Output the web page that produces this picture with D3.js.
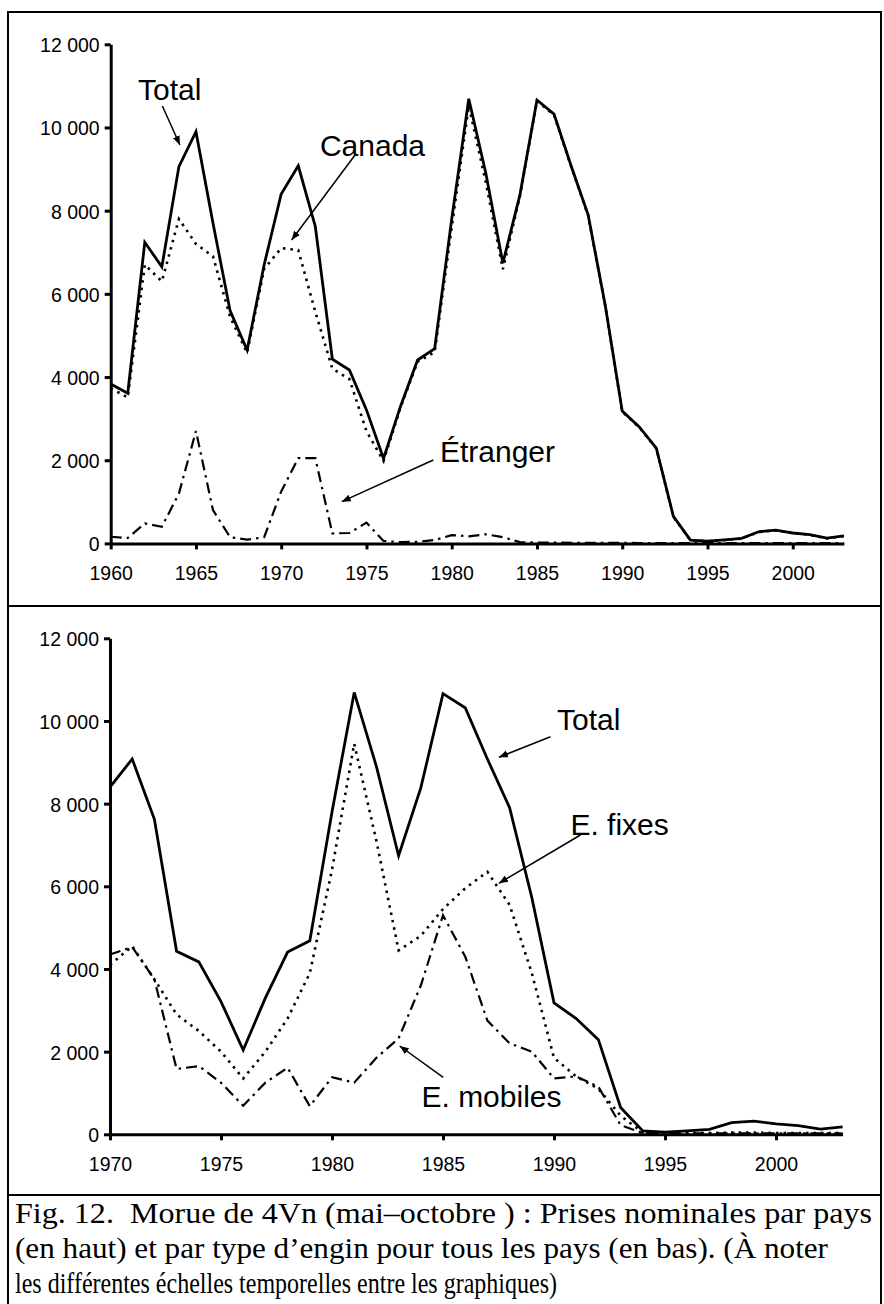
<!DOCTYPE html>
<html><head><meta charset="utf-8">
<script src="https://cdn.jsdelivr.net/npm/d3@7"></script>
<style>body{margin:0;background:#fff} svg{display:block}</style>
</head><body>
<svg id="c" width="884" height="1304"></svg>
<script>
// ---------- DATA ----------
const yearsTop = d3.range(1960, 2004);
const totalCatch = [3830,3610,7240,6650,9060,9900,7700,5600,4650,6700,
  8400,9080,7620,4430,4170,3210,2040,3300,4410,4680,
  7800,10690,8900,6740,8380,10660,10320,9080,7900,5730,
  3180,2800,2290,650,80,55,85,120,280,320,
  250,210,125,180];
const canadaCatch = [3730,3510,6700,6300,7800,7200,6900,5450,4580,6600,
  7100,7050,5570,4200,3950,2700,1980,3270,4370,4600,
  7600,10520,8680,6590,8350,10640,10300,9065,7885,5720,
  3165,2790,2280,640,75,50,80,115,275,315,
  245,205,120,175];
const foreignCatch = [160,130,480,400,1200,2700,800,150,90,150,
  1250,2050,2050,240,250,500,60,30,40,80,
  200,170,220,150,30,20,20,15,15,10,
  15,10,10,10,5,5,5,5,5,5,
  5,5,5,5];
const yearsBottom = d3.range(1970, 2004);
const totalBottom = totalCatch.slice(10);
const fixedGear = [4100,4550,3750,2900,2500,2000,1350,2000,2800,3900,
  6400,9450,7100,4450,4800,5450,5950,6350,5550,3900,
  1850,1400,1100,450,40,30,30,30,40,40,
  30,30,30,30];
const mobileGear = [4350,4530,3750,1580,1650,1250,690,1250,1610,680,
  1380,1250,1850,2320,3600,5300,4300,2750,2200,2000,
  1350,1400,1150,220,30,20,20,20,20,20,
  20,20,20,20];
const yTicks = [0,2000,4000,6000,8000,10000,12000];
const xTicksTop = [1960,1965,1970,1975,1980,1985,1990,1995,2000];
const xTicksBottom = [1970,1975,1980,1985,1990,1995,2000];
// annotations: [label, textYear, textValue, arrowFromYear, arrowFromValue, arrowToYear, arrowToValue]
const annotTop = [
  ["Total", 1961.6, 10663, 1963.03, 10517, 1964.06, 9579],
  ["Canada", 1972.27, 9322, 1974.33, 9338, 1970.61, 7294],
  ["Étranger", 1979.31, 1964, 1978.92, 2005, 1973.55, 1003]
];
const annotBottom = [
  ["Total", 1990.14, 9782, 1989.84, 9619, 1987.52, 9121],
  ["E. fixes", 1990.74, 7241, 1991.19, 7241, 1987.52, 6073],
  ["E. mobiles", 1984.03, 668, 1985.01, 1379, 1983.05, 2136]
];
const captionLines = [
  "Fig. 12.  Morue de 4Vn (mai–octobre ) : Prises nominales par pays",
  "(en haut) et par type d’engin pour tous les pays (en bas). (À noter",
  "les différentes échelles temporelles entre les graphiques)"
];
const captionWidths = [857, 813, 542];

// ---------- DRAW ----------
const svg = d3.select("#c");
const fmt = d3.formatLocale({decimal:",", thousands:" ", grouping:[3], currency:["",""]}).format(",");

svg.append("defs").append("marker")
  .attr("id","ah").attr("viewBox","0 0 10 10").attr("refX",10).attr("refY",5)
  .attr("markerWidth",6).attr("markerHeight",6).attr("markerUnits","strokeWidth")
  .attr("orient","auto")
  .append("path").attr("d","M0,1 L10,5 L0,9 Z").attr("fill","#000");

// frame
const frame = svg.append("g").attr("stroke","#000").attr("stroke-width",2);
frame.append("line").attr("x1",7).attr("x2",882).attr("y1",12).attr("y2",12);
frame.append("line").attr("x1",8).attr("x2",8).attr("y1",11).attr("y2",1304);
frame.append("line").attr("x1",881).attr("x2",881).attr("y1",11).attr("y2",1304);
frame.append("line").attr("x1",7).attr("x2",882).attr("y1",606).attr("y2",606);
frame.append("line").attr("x1",7).attr("x2",882).attr("y1",1195).attr("y2",1195);

const styles = {
  solid: {w:2.8, dash:null},
  dot: {w:2.6, dash:"2.5,5"},
  dashdot: {w:2.2, dash:"11,5,2.5,5"}
};

function panel(cfg){
  const x = d3.scaleLinear().domain(cfg.xDomain).range(cfg.xRange);
  const y = d3.scaleLinear().domain([0,12000]).range(cfg.yRange);
  const g = svg.append("g");

  const ya = g.append("g").attr("transform",`translate(${cfg.xRange[0]},0)`)
    .call(d3.axisLeft(y).tickValues(yTicks).tickFormat(fmt).tickSize(6).tickSizeOuter(0).tickPadding(5));
  const xa = g.append("g").attr("transform",`translate(0,${cfg.yRange[0]})`)
    .call(d3.axisBottom(x).tickValues(cfg.xTicks).tickFormat(d3.format("d")).tickSize(6).tickSizeOuter(0).tickPadding(17));
  [ya,xa].forEach(a=>{
    a.select(".domain").attr("stroke","#000").attr("stroke-width",3);
    a.selectAll(".tick line").attr("stroke","#000").attr("stroke-width",3);
    a.selectAll("text").attr("fill","#000").style("font-family","'Liberation Sans', Arial, sans-serif").style("font-size","19.5px");
  });
  ya.selectAll("text").attr("dy","0.38em");

  const line = d3.line().x(d=>x(d[0])).y(d=>y(d[1]));
  cfg.series.forEach(s=>{
    const st = styles[s.style];
    g.append("path").datum(cfg.years.map((yr,i)=>[yr,s.values[i]]))
      .attr("d",line).attr("fill","none").attr("stroke","#000")
      .attr("stroke-width",st.w).attr("stroke-linejoin","miter")
      .attr("stroke-dasharray",st.dash);
  });

  cfg.annot.forEach(a=>{
    g.append("text").attr("x",x(a[1])).attr("y",y(a[2])).text(a[0])
      .style("font-family","'Liberation Sans', Arial, sans-serif").style("font-size","30px").attr("fill","#000");
    g.append("line").attr("x1",x(a[3])).attr("y1",y(a[4])).attr("x2",x(a[5])).attr("y2",y(a[6]))
      .attr("stroke","#000").attr("stroke-width",1.5).attr("marker-end","url(#ah)");
  });
}

panel({
  xDomain:[1960,2003], xRange:[110.7,843.9], yRange:[543.4,44.3],
  xTicks:xTicksTop, years:yearsTop,
  series:[
    {values:foreignCatch, style:"dashdot"},
    {values:canadaCatch, style:"dot"},
    {values:totalCatch, style:"solid"}
  ],
  annot:annotTop
});
panel({
  xDomain:[1970,2003], xRange:[110,842.6], yRange:[1134.3,638.3],
  xTicks:xTicksBottom, years:yearsBottom,
  series:[
    {values:mobileGear, style:"dashdot"},
    {values:fixedGear, style:"dot"},
    {values:totalBottom, style:"solid"}
  ],
  annot:annotBottom
});

svg.append("g").selectAll("text").data(captionLines).join("text")
  .attr("x",15).attr("y",(d,i)=>1222.5 + i*35.3).text(d=>d)
  .attr("textLength",(d,i)=>captionWidths[i]).attr("lengthAdjust","spacingAndGlyphs")
  .style("font-family","'Liberation Serif', 'Times New Roman', serif").style("font-size","29px")
  .attr("fill","#000").attr("xml:space","preserve").style("white-space","pre");
</script>
</body></html>
